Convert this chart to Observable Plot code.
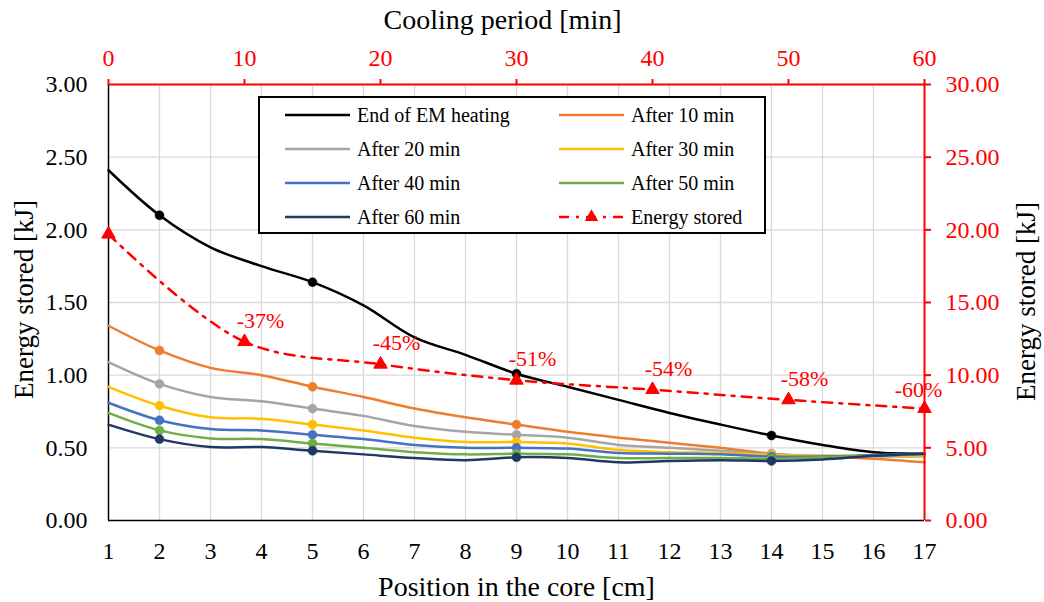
<!DOCTYPE html>
<html><head><meta charset="utf-8">
<script src="https://cdn.jsdelivr.net/npm/d3@7"></script>
<script src="https://cdn.jsdelivr.net/npm/@observablehq/plot@0.6"></script>
<style>
body{margin:0;background:#fff}
#wrap{position:relative;width:1044px;height:602px;font-family:"Liberation Serif","Times New Roman",serif}
#wrap svg text{font-family:"Liberation Serif","Times New Roman",serif !important}
#legend{position:absolute;left:0;top:0;pointer-events:none}
</style>
</head><body><div id="wrap"></div>
<script>
// ---- data ----
const positions = [1,2,3,4,5,6,7,8,9,10,11,12,13,14,15,16,17];
const markerPositions = [2,5,9,14];
const endEM   = [2.41,2.10,1.88,1.75,1.64,1.48,1.26,1.14,1.01,0.92,0.83,0.74,0.66,0.585,0.52,0.47,0.46];
const after10 = [1.34,1.17,1.05,1.00,0.92,0.85,0.77,0.71,0.66,0.61,0.57,0.535,0.50,0.46,0.44,0.425,0.40];
const after20 = [1.09,0.94,0.85,0.82,0.77,0.72,0.65,0.61,0.59,0.57,0.52,0.50,0.48,0.455,0.445,0.44,0.44];
const after30 = [0.92,0.79,0.71,0.70,0.66,0.62,0.57,0.54,0.54,0.53,0.485,0.47,0.465,0.45,0.445,0.445,0.445];
const after40 = [0.81,0.69,0.63,0.62,0.59,0.56,0.52,0.50,0.50,0.495,0.465,0.46,0.455,0.44,0.44,0.45,0.46];
const after50 = [0.74,0.62,0.565,0.56,0.53,0.50,0.47,0.455,0.46,0.455,0.43,0.43,0.43,0.425,0.435,0.445,0.455];
const after60 = [0.66,0.56,0.505,0.505,0.48,0.455,0.43,0.415,0.435,0.43,0.40,0.41,0.415,0.41,0.42,0.445,0.46];
const seriesNames  = ["End of EM heating","After 10 min","After 20 min","After 30 min","After 40 min","After 50 min","After 60 min"];
const seriesColors = ["#000000","#ED7D31","#A5A5A5","#FFC000","#4472C4","#70AD47","#1F3864"];
const seriesValues = [endEM, after10, after20, after30, after40, after50, after60];

const minutes = [0,10,20,30,40,50,60];
const energyStored = [19.7,12.3,10.75,9.65,9.0,8.3,7.7];
const percentLabels = ["","-37%","-45%","-51%","-54%","-58%","-60%"];
const energyName = "Energy stored";

const leftTicks = [0,0.5,1,1.5,2,2.5,3];
const rightTicks = [0,5,10,15,20,25,30];

// ---- secondary-axis mapping ----
const xMin = [1,17], tMax = 60, eMax = 30, yMax = 3;
const xFromMin = t => xMin[0] + t*(xMin[1]-xMin[0])/tMax;
const yFromE = e => e*yMax/eMax;

const rows = [];
seriesNames.forEach((name,i) => positions.forEach((p,j) => rows.push({series:name, color:seriesColors[i], pos:p, value:seriesValues[i][j]})));
const energyRows = minutes.map((t,i) => ({t, e:energyStored[i], label:percentLabels[i]}));

const font = "Liberation Serif";
const red = "#FF0000";
const marks = [
  Plot.gridX(positions.slice(1,-1), {stroke:"#d9d9d9", strokeOpacity:1, strokeWidth:1.3}),
  Plot.gridY(leftTicks.slice(1), {stroke:"#d9d9d9", strokeOpacity:1, strokeWidth:1.3}),
  Plot.ruleY([0], {stroke:"#000", strokeWidth:1.5}),
  Plot.ruleX([1], {stroke:"#000", strokeWidth:1.5}),
];
seriesNames.forEach((name,i) => {
  const data = rows.filter(r => r.series === name);
  marks.push(Plot.line(data, {x:"pos", y:"value", stroke:seriesColors[i], strokeWidth:2.5, curve:"catmull-rom"}));
  marks.push(Plot.dot(data.filter(r => markerPositions.includes(r.pos)), {x:"pos", y:"value", r:4.5, fill:seriesColors[i], stroke:seriesColors[i], strokeWidth:0.5}));
});
marks.push(
  Plot.line(energyRows, {x:d=>xFromMin(d.t), y:d=>yFromE(d.e), stroke:red, strokeWidth:2.5, strokeDasharray:"10,7,3,7", curve:"catmull-rom"}),
  Plot.dot(energyRows, {x:d=>xFromMin(d.t), y:d=>yFromE(d.e), symbol:"triangle", r:5, fill:red, stroke:red, strokeWidth:1}),
  Plot.text(energyRows.slice(1,-1), {x:d=>xFromMin(d.t), y:d=>yFromE(d.e), text:"label", fill:red, fontSize:22, fontFamily:font, dx:16, dy:-21, lineAnchor:"middle"}),
  Plot.text(energyRows.slice(-1), {x:d=>xFromMin(d.t), y:d=>yFromE(d.e), text:"label", fill:red, fontSize:22, fontFamily:font, dx:-6, dy:-19, lineAnchor:"middle"}),
  Plot.ruleY([yMax], {stroke:red, strokeWidth:2}),
  Plot.ruleX([xMin[1]], {stroke:red, strokeWidth:2}),
  Plot.axisX({anchor:"bottom", ticks:positions, tickSize:0, tickPadding:21, fontSize:24, fontFamily:font, label:null, tickFormat:d=>String(d)}),
  Plot.axisY({anchor:"left", ticks:leftTicks, tickSize:0, tickPadding:21, fontSize:24, fontFamily:font, label:null, tickFormat:d3.format(".2f")}),
  Plot.axisX({anchor:"top", ticks:minutes.map(xFromMin), tickSize:6, tickPadding:13, fontSize:24, fontFamily:font, label:null, stroke:red, fill:red, strokeWidth:2, tickFormat:d=>String(Math.round((d-xMin[0])*tMax/(xMin[1]-xMin[0])))}),
  Plot.axisY({anchor:"right", ticks:rightTicks.map(yFromE), tickSize:6, fontSize:24, label:null, stroke:red, fill:red, strokeWidth:2, tickFormat:()=>""}),
  Plot.text(rightTicks, {y:yFromE, frameAnchor:"right", text:d=>d.toFixed(2), dx:21, textAnchor:"start", lineAnchor:"middle", fill:red, fontSize:24, fontFamily:font}),
  Plot.text(["Position in the core [cm]"], {frameAnchor:"bottom", text:d=>d, dy:67, fontSize:28, fontFamily:font, fill:"#000", lineAnchor:"middle", textAnchor:"middle"}),
  Plot.text(["Cooling period [min]"], {frameAnchor:"top", text:d=>d, dx:-14, dy:-64, fontSize:28, fontFamily:font, fill:"#000", lineAnchor:"middle", textAnchor:"middle"}),
  Plot.text(["Energy stored [kJ]"], {frameAnchor:"left", text:d=>d, dx:-84, dy:-3, rotate:-90, fontSize:27, fontFamily:font, fill:"#000", lineAnchor:"middle", textAnchor:"middle"}),
  Plot.text(["Energy stored [kJ]"], {frameAnchor:"right", text:d=>d, dx:102, dy:-1, rotate:-90, fontSize:27, fontFamily:font, fill:"#000", lineAnchor:"middle", textAnchor:"middle"})
);

const chart = Plot.plot({
  width:1044, height:602,
  marginLeft:108, marginRight:120, marginTop:84, marginBottom:82,
  x:{domain:xMin}, y:{domain:[0,yMax]},
  style:{fontFamily:font, fontSize:"24px", background:"#fff", color:"#000", overflow:"visible"},
  marks
});
const wrap = document.getElementById("wrap");
wrap.appendChild(chart);

// ---- legend (overlay inside plot area) ----
const lg = d3.select(wrap).append("svg").attr("id","legend").attr("width",1044).attr("height",602);
lg.append("rect").attr("x",259).attr("y",97).attr("width",506).attr("height",136)
  .attr("fill","#fff").attr("stroke","#000").attr("stroke-width",2);
const items = seriesNames.map((n,i)=>({name:n, color:seriesColors[i], energy:false}));
items.push({name:energyName, color:red, energy:true});
items.forEach((it,i) => {
  const col = i % 2, row = Math.floor(i/2);
  const x0 = col ? 559 : 285, y = 115 + row*34;
  const g = lg.append("g");
  if (it.energy) {
    g.append("line").attr("x1",x0).attr("x2",x0+65).attr("y1",y).attr("y2",y)
      .attr("stroke",it.color).attr("stroke-width",2.5).attr("stroke-dasharray","10,7,3,7");
    g.append("path").attr("d", d3.symbol(d3.symbolTriangle, 5*5*Math.PI)()).attr("transform",`translate(${x0+32.5},${y})`).attr("fill",it.color);
  } else {
    g.append("line").attr("x1",x0).attr("x2",x0+65).attr("y1",y).attr("y2",y)
      .attr("stroke",it.color).attr("stroke-width",2.5);
  }
  g.append("text").attr("x",x0+72).attr("y",y).attr("dy","0.33em").attr("font-size",20)
    .attr("fill","#000").text(it.name);
});
</script></body></html>
